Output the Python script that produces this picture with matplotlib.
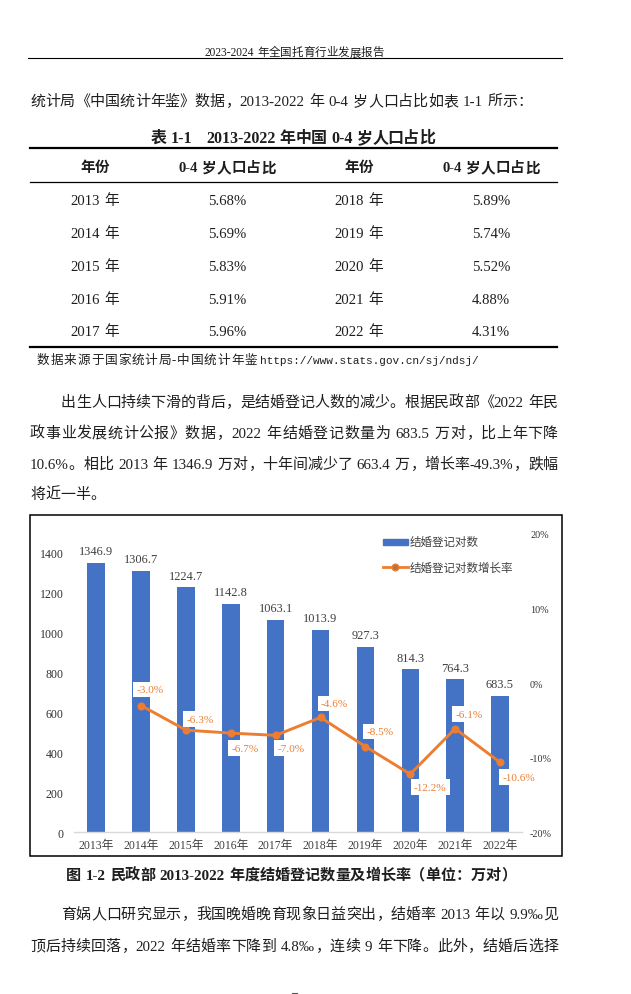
import re
import numpy as np
import matplotlib
matplotlib.use('Agg')
import matplotlib.pyplot as plt
from matplotlib.font_manager import FontProperties
from matplotlib.patches import Rectangle
from matplotlib.lines import Line2D

# ---------------- data ----------------
table_years_left = ['2013 年', '2014 年', '2015 年', '2016 年', '2017 年']
table_share_left = ['5.68%', '5.69%', '5.83%', '5.91%', '5.96%']
table_years_right = ['2018 年', '2019 年', '2020 年', '2021 年', '2022 年']
table_share_right = ['5.89%', '5.74%', '5.52%', '4.88%', '4.31%']
table_headers = ['年份', '0-4 岁人口占比', '年份', '0-4 岁人口占比']

years = ['2013年', '2014年', '2015年', '2016年', '2017年',
         '2018年', '2019年', '2020年', '2021年', '2022年']
marriages = [1346.9, 1306.7, 1224.7, 1142.8, 1063.1,
             1013.9, 927.3, 814.3, 764.3, 683.5]
growth_rate = [-3.0, -6.3, -6.7, -7.0, -4.6, -8.5, -12.2, -6.1, -10.6]
left_ticks = [0, 200, 400, 600, 800, 1000, 1200, 1400]
right_ticks = [-20, -10, 0, 10, 20]
right_tick_labels = ['-20%', '-10%', '0%', '10%', '20%']
series_names = ['结婚登记对数', '结婚登记对数增长率']

# label offsets (pixels) for growth-rate labels
rate_label_offsets = [(9, 16), (14, 11), (14, -15), (15, -13), (14, 14),
                      (15, 15), (20, -13), (14, 14.5), (19, -15)]

W, H = 631, 995
fig = plt.figure(figsize=(W / 100, H / 100), dpi=100)
fig.patch.set_facecolor('white')
renderer = fig.canvas.get_renderer()

SERIF_CJK = ['Liberation Serif', 'Noto Sans CJK SC']
TXT = '#1e1e1e'
CH = '#404040'
BAR = '#4472C4'
ORANGE = '#ED7D31'


def fx(x):
    return x / W


def fy(y):
    return 1 - y / H


def tw(s, prop):
    w, h, d = renderer.get_text_width_height_descent(s, prop, ismath=False)
    return w


def line(text, yc, size, x0=None, x1=None, cx=None, weight='normal',
         family=SERIF_CJK, color=TXT, space=0.3):
    prop = FontProperties(family=family, size=size, weight=weight)
    px = size * 100 / 72
    toks = re.findall(r'[\x21-\x7e\u2030]+|\s+|\S', text)
    c2 = tw('国国', prop)
    items = []
    for t in toks:
        if t.isspace():
            items.append((None, space * px * len(t)))
        else:
            items.append((t, tw('国' + t + '国', prop) - c2))
    total = sum(a for _, a in items)
    n = len(items)
    if x0 is None:
        x0 = cx - total / 2
    gap = (x1 - x0 - total) / (n - 1) if (x1 is not None and n > 1) else 0
    yb = yc + 0.37 * px
    x = x0
    for t, a in items:
        if t is not None:
            fig.text(fx(x), fy(yb), t, fontproperties=prop, color=color,
                     ha='left', va='baseline')
        x += a + gap


def hline(x0, x1, y, lw, color='black'):
    fig.add_artist(Line2D([fx(x0), fx(x1)], [fy(y), fy(y)], lw=lw,
                          color=color, transform=fig.transFigure))


# ---------------- page header ----------------
line('2023-2024 年全国托育行业发展报告', 52, 8.3, x0=204, x1=384)
hline(28, 562, 59.3, 0.8)

line('统计局《中国统计年鉴》数据，2013-2022 年 0-4 岁人口占比如表 1-1 所示：',
     100.5, 10.8, x0=30, x1=532)

# ---------------- table ----------------
line('表 1-1   2013-2022 年中国 0-4 岁人口占比', 137, 11.5, x0=151, x1=435,
     weight='bold')
hline(30, 557, 149, 1.6)
hline(30, 557, 183, 0.9)
hline(30, 557, 347.7, 1.6)

col_x = [95, 227, 359, 491]
for cxp, hd in zip(col_x, table_headers):
    line(hd, 167, 10.5, cx=cxp, weight='bold')
row_y = [200, 232.5, 265.5, 298.5, 330.5]
for i, yy in enumerate(row_y):
    cells = [table_years_left[i], table_share_left[i],
             table_years_right[i], table_share_right[i]]
    for cxp, c in zip(col_x, cells):
        line(c, yy, 10.6, cx=cxp)

line('数据来源于国家统计局-中国统计年鉴', 359.5, 9.1, x0=37, x1=257)
fig.text(fx(260), fy(359.5 + 4), 'https://www.stats.gov.cn/sj/ndsj/',
         family='Liberation Mono', size=8.0, color=TXT, ha='left',
         va='baseline')

# ---------------- paragraph ----------------
line('出生人口持续下滑的背后，是结婚登记人数的减少。根据民政部《2022 年民',
     401, 10.8, x0=61, x1=558)
line('政事业发展统计公报》数据，2022 年结婚登记数量为 683.5 万对，比上年下降',
     432, 10.8, x0=30, x1=558)
line('10.6%。相比 2013 年 1346.9 万对，十年间减少了 663.4 万，增长率-49.3%，跌幅',
     463, 10.8, x0=30, x1=558)
line('将近一半。', 493, 10.8, x0=30)

# ---------------- chart ----------------
fig.add_artist(Rectangle((fx(30), fy(856.7)), (561.5 - 30) / W,
                         (856.7 - 516) / H, transform=fig.transFigure,
                         fill=False, ec='black', lw=1.1))

ax = fig.add_axes([fx(73.8), fy(833.3), (522.4 - 73.8) / W,
                   (833.3 - 535) / H])
ax.set_facecolor('none')
xs = np.arange(len(years))
ax.bar(xs, marriages, width=0.39, color=BAR, zorder=2)
ax.set_xlim(-0.5, len(years) - 0.5)
ax.set_ylim(0, 1491.5)
ax.set_yticks(left_ticks)
ax.set_yticklabels([str(t) for t in left_ticks])
ax.set_xticks(xs)
ax.set_xticklabels(years)
for s in ['top', 'left', 'right']:
    ax.spines[s].set_visible(False)
ax.spines['bottom'].set_color('#D9D9D9')
ax.spines['bottom'].set_linewidth(1.0)
ax.tick_params(axis='y', length=0, pad=7.4, labelsize=8.6,
               labelcolor='#333333')
ax.tick_params(axis='x', length=0, pad=4.6, labelsize=8.5, labelcolor=CH)
for lab in ax.get_yticklabels():
    lab.set_family('Liberation Serif')
for lab in ax.get_xticklabels():
    lab.set_family(SERIF_CJK)

for xi, v in zip(xs, marriages):
    ax.annotate(f'{v:.1f}', (xi, v), xytext=(0, 11.5),
                textcoords='offset pixels', ha='center', va='center',
                family='Liberation Serif', fontsize=8.9, color=CH)

ax2 = ax.twinx()
ax2.set_ylim(-20, 20)
ax2.set_yticks(right_ticks)
ax2.set_yticklabels(right_tick_labels)
for s in ['top', 'left', 'right', 'bottom']:
    ax2.spines[s].set_visible(False)
ax2.tick_params(axis='y', length=0, pad=5.5, labelsize=7.3,
                labelcolor='#333333')
for lab in ax2.get_yticklabels():
    lab.set_family('Liberation Serif')

gx = xs[1:]
ax2.plot(gx, growth_rate, color=ORANGE, lw=2.1, marker='o', ms=4.8,
         zorder=3)
for xi, r, (dx, dy) in zip(gx, growth_rate, rate_label_offsets):
    ax2.annotate(f'{r:.1f}%', (xi, r), xytext=(dx, dy),
                 textcoords='offset pixels', ha='center', va='center',
                 family='Liberation Serif', fontsize=8.1, color=ORANGE,
                 zorder=4,
                 bbox=dict(boxstyle='square,pad=0.3', fc='white',
                           ec='none'))

# legend
fig.add_artist(Rectangle((fx(382.7), fy(545.5)), (408.3 - 382.7) / W,
                         5.7 / H, transform=fig.transFigure, color=BAR))
fig.add_artist(Line2D([fx(382.7), fx(408.3)], [fy(568.3), fy(568.3)],
                      transform=fig.transFigure, color=ORANGE, lw=2.0))
fig.add_artist(Line2D([fx(395.5)], [fy(568.3)], marker='o', ms=4.8,
                      color=ORANGE, mfc='#B8743F',
                      transform=fig.transFigure))
legend_prop = FontProperties(family=['Noto Sans CJK SC'], size=8.3)
fig.text(fx(410), fy(542.6), series_names[0], fontproperties=legend_prop,
         color=CH, ha='left', va='center')
fig.text(fx(410), fy(568.3), series_names[1], fontproperties=legend_prop,
         color=CH, ha='left', va='center')

# caption
line('图 1-2 民政部 2013-2022 年度结婚登记数量及增长率（单位：万对）', 874,
     10.9, x0=66, x1=516, weight='bold')

# ---------------- paragraph 2 ----------------
line('育娲人口研究显示，我国晚婚晚育现象日益突出，结婚率 2013 年以 9.9‰见',
     913.5, 10.8, x0=61, x1=558)
line('顶后持续回落，2022 年结婚率下降到 4.8‰，连续 9 年下降。此外，结婚后选择',
     945, 10.8, x0=30, x1=558)

hline(292, 297, 994, 0.8, color='#555555')

fig.savefig('out.png', dpi=100, facecolor='white')
